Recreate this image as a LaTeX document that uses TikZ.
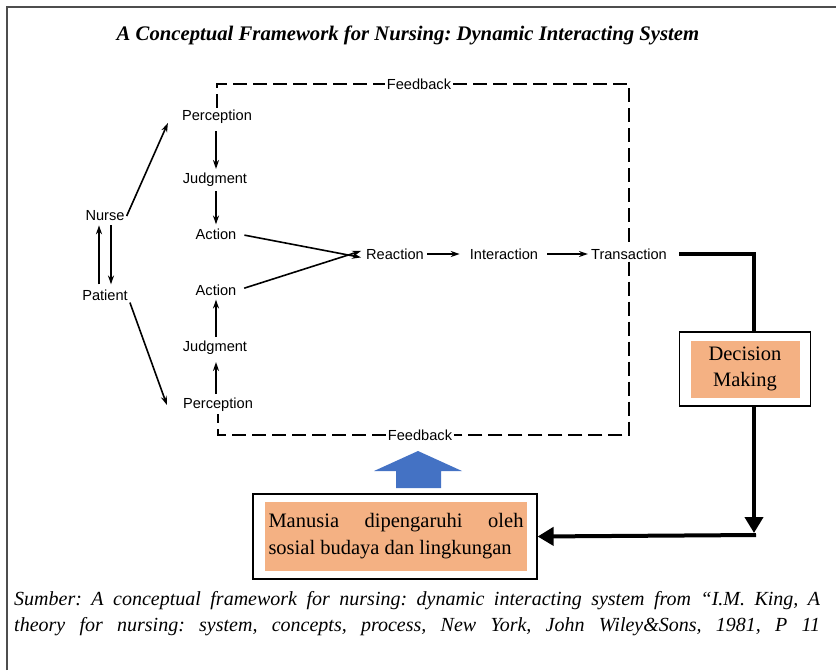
\documentclass[tikz,border=0pt]{standalone}
\usepackage{fontspec}
\setmainfont{Liberation Serif}
\setsansfont{Liberation Sans}
\usetikzlibrary{arrows.meta}
\definecolor{orangefill}{HTML}{F4B183}
\definecolor{bluearrow}{HTML}{4472C4}
\definecolor{framegray}{HTML}{4D4D4D}
\begin{document}
\frenchspacing
\begin{tikzpicture}[x=1pt,y=-1pt,
  lbl/.style={font=\sffamily\fontsize{14.6}{16}\selectfont, inner sep=2pt},
  thinarrow/.style={-{Stealth[length=9pt,width=6pt]}, line width=1.6pt},
  fbline/.style={dash pattern=on 14pt off 6pt, line width=1.5pt},
  heavy/.style={line width=4pt, line join=miter},
  bigtip/.style={-{Triangle[length=16pt,width=18pt]}},
  capfont/.style={font=\fontsize{20}{22}\selectfont\itshape},
  boxtext/.style={font=\fontsize{20.5}{26}\selectfont},
]
\useasboundingbox (0,0) rectangle (836,670);
\draw[framegray, line width=1.5pt] (7,670) -- (7,7) -- (836,7);

% title
\node (title) at (408,35) {\fontsize{20.7}{24}\selectfont\bfseries\itshape A Conceptual Framework for Nursing: Dynamic Interacting System};

% diagram labels
\node[lbl] (nurse) at (105,216) {Nurse};
\node[lbl] (patient) at (105,295) {Patient};
\node[lbl] (p1) at (217,117) {Perception};
\node[lbl] (j1) at (215,180) {Judgment};
\node[lbl] (a1) at (216,234) {Action};
\node[lbl] (a2) at (216,290) {Action};
\node[lbl] (j2) at (215,348) {Judgment};
\node[lbl] (p2) at (218,405) {Perception};
\node[lbl] (re) at (395,254) {Reaction};
\node[lbl] (in) at (504,254) {Interaction};
\node[lbl] (tr) at (629,254) {Transaction};
\node[lbl, fill=white] (fb1) at (419,84) {Feedback};
\node[lbl, fill=white] (fb2) at (420,435) {Feedback};

% thin arrows
\draw[thinarrow, shorten <=5pt, shorten >=2pt] (p1.south -| 216,0) -- (j1.north -| 216,0);
\draw[thinarrow, shorten <=2pt, shorten >=2pt] (j1.south -| 216,0) -- (a1.north -| 216,0);
\draw[thinarrow, shorten <=2pt, shorten >=2pt] (j2.north -| 216,0) -- (a2.south -| 216,0);
\draw[thinarrow, shorten <=2pt, shorten >=5pt] (p2.north -| 216,0) -- (j2.south -| 216,0);
\draw[thinarrow] (nurse.east) -- ([shift={(-12,-3)}]p1.south west);
\draw[thinarrow] (patient.south east) -- ([xshift=-14pt]p2.west);
\draw[thinarrow, shorten <=3pt, shorten >=2pt] ([xshift=-6pt]patient.north) -- ([xshift=-6pt]nurse.south);
\draw[thinarrow, shorten <=2pt, shorten >=3pt] ([xshift=6pt]nurse.south) -- ([xshift=6pt]patient.north);
\draw[thinarrow, shorten <=6pt, shorten >=3pt] (a1.east) -- ([yshift=-4pt]re.west);
\draw[thinarrow, shorten <=6pt, shorten >=3pt] (a2.east) -- ([yshift=4pt]re.west);
\draw[thinarrow, shorten <=1pt, shorten >=8pt] (re) -- (in);
\draw[thinarrow, shorten <=7pt, shorten >=1pt] (in) -- (tr);

% feedback loop
\draw[fbline] (p1.north) -- (p1.north |- fb1) -- (fb1.west);
\draw[fbline] (fb1.east) -- (fb1 -| tr) -- (tr.north);
\draw[fbline] (tr.south) -- (tr |- fb2) -- (fb2.east);
\draw[fbline] (fb2.west) -- (fb2 -| p2) -- (p2.south);

% decision making box
\node[draw, line width=1.2pt, fill=white, minimum width=131pt, minimum height=74pt] (dmout) at (745,369) {};
\node[fill=orangefill, minimum width=109pt, minimum height=57pt, align=center, boxtext] (dmin) at (745,369) {Decision\\Making};

% manusia box
\node[draw, line width=1.2pt, fill=white, minimum width=284pt, minimum height=85pt] (mbout) at (395,536.5) {};
\node[fill=orangefill, minimum width=262pt, minimum height=69pt, inner sep=0pt] (mbin) at (396,536.5) {\parbox{255pt}{\fontsize{20.5}{27}\selectfont\makebox[255pt][s]{Manusia dipengaruhi oleh}\\sosial budaya dan lingkungan}};

% heavy connectors
\coordinate (c1) at (754,254);
\coordinate (c2) at (754,535);
\draw[heavy] ([xshift=10pt]tr.east) -| (c1 |- dmout.north);
\draw[heavy, bigtip] (c1 |- dmout.south) -- ([yshift=2pt]c2);
\draw[heavy, bigtip] ([xshift=2pt]c2) -- (mbout.east);

% blue block arrow
\fill[bluearrow] (396,488) -- (396,471) -- (374,471) -- (418,451) -- (462,471) -- (441,471) -- (441,488) -- cycle;

% caption
\node[anchor=west, inner sep=0pt, capfont] (cap1) at (14,601) {\makebox[806pt][s]{Sumber: A conceptual framework for nursing: dynamic interacting system from “I.M. King, A}};
\node[anchor=west, inner sep=0pt, capfont] (cap2) at (14,627) {\makebox[806pt][s]{theory for nursing: system, concepts, process, New York, John Wiley\&Sons, 1981, P 11}};
\end{tikzpicture}
\end{document}
